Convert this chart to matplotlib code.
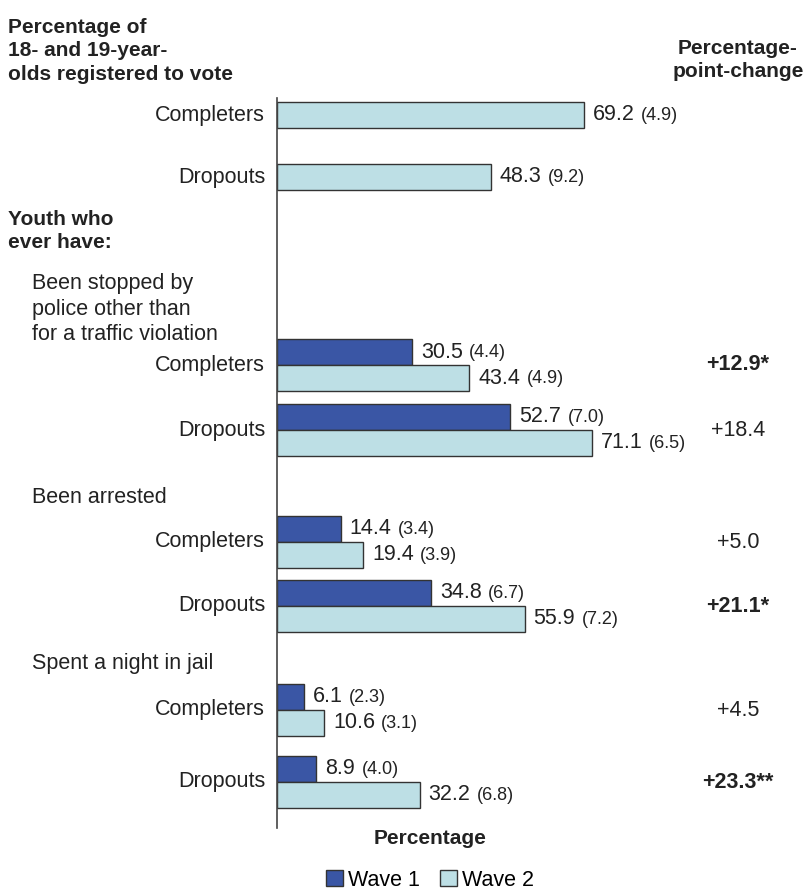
import matplotlib
matplotlib.use("Agg")
import matplotlib.pyplot as plt
from matplotlib.patches import Patch

plt.rcParams['font.family'] = ['Liberation Sans', 'DejaVu Sans']

# data
reg_groups = ['Completers', 'Dropouts']
reg_wave2 = [69.2, 48.3]
reg_wave2_se = [4.9, 9.2]

sections = ['Been stopped by\npolice other than\nfor a traffic violation',
            'Been arrested',
            'Spent a night in jail']
groups = ['Completers', 'Dropouts']
wave1 = [[30.5, 52.7], [14.4, 34.8], [6.1, 8.9]]
wave1_se = [[4.4, 7.0], [3.4, 6.7], [2.3, 4.0]]
wave2 = [[43.4, 71.1], [19.4, 55.9], [10.6, 32.2]]
wave2_se = [[4.9, 6.5], [3.9, 7.2], [3.1, 6.8]]
change = [['+12.9*', '+18.4'], ['+5.0', '+21.1*'], ['+4.5', '+23.3**']]
change_bold = [[True, False], [False, True], [False, True]]

c1 = '#3a56a5'
c2 = '#bddfe5'
edge = '#333333'
tc = '#222222'
fs = 15.5      # label size
fs_b = 15      # bold headers
fs_v = 15.5    # values
fs_se = 13     # standard errors

W, H = 807, 890
fig = plt.figure(figsize=(W / 100, H / 100), dpi=100)
x0 = 277
scale = 4.43  # px per percent
ax = fig.add_axes([x0 / W, 0, 1 - x0 / W, 1])
ax.set_xlim(0, (W - x0) / scale)
ax.set_ylim(H, 0)
ax.axis('off')
ax.plot([0, 0], [98, 828], color='#444444', lw=1.2, clip_on=False)

def ftxt(x, y, s, **kw):
    fig.text(x / W, 1 - y / H, s, **kw)

bh = 26

def value_label(val, se, y):
    t = ax.annotate(f'{val:.1f}', xy=(val, y), xytext=(6.5, 0), textcoords='offset points',
                    va='center', ha='left', fontsize=fs_v, color=tc)
    ax.annotate(f'({se:.1f})', xy=(1, 0), xycoords=t, xytext=(4.5, 0.8), textcoords='offset points',
                va='bottom', ha='left', fontsize=fs_se, color=tc)

# registration section
reg_y = [115, 177]
for g, v, se, y in zip(reg_groups, reg_wave2, reg_wave2_se, reg_y):
    ax.barh(y, v, height=bh, color=c2, edgecolor=edge, lw=1)
    value_label(v, se, y)
    ftxt(265, y, g, ha='right', va='center', fontsize=fs, color=tc)

ftxt(8, 51, 'Percentage of\n18- and 19-year-\nolds registered to vote', ha='left', va='center',
     fontsize=fs_b, fontweight='bold', color=tc, linespacing=1.3)
ftxt(738, 60, 'Percentage-\npoint-change', ha='center', va='center',
     fontsize=fs_b, fontweight='bold', color=tc, linespacing=1.3)
ftxt(8, 231, 'Youth who\never have:', ha='left', va='center',
     fontsize=fs_b, fontweight='bold', color=tc, linespacing=1.3)

sec_y = [[365, 430], [542, 606], [710, 782]]
sec_head_y = [309, 498, 664]
for i, sec in enumerate(sections):
    ftxt(32, sec_head_y[i], sec, ha='left', va='center', fontsize=fs, color=tc,
         linespacing=1.3)
    for j, g in enumerate(groups):
        y = sec_y[i][j]
        ax.barh(y - bh / 2, wave1[i][j], height=bh, color=c1, edgecolor=edge, lw=1)
        ax.barh(y + bh / 2, wave2[i][j], height=bh, color=c2, edgecolor=edge, lw=1)
        value_label(wave1[i][j], wave1_se[i][j], y - bh / 2)
        value_label(wave2[i][j], wave2_se[i][j], y + bh / 2)
        ftxt(265, y, g, ha='right', va='center', fontsize=fs, color=tc)
        ftxt(738, y, change[i][j], ha='center', va='center', fontsize=fs, color=tc,
             fontweight='bold' if change_bold[i][j] else 'normal')

ftxt(430, 839, 'Percentage', ha='center', va='center', fontsize=fs_b,
     fontweight='bold', color=tc)

handles = [Patch(facecolor=c1, edgecolor=edge, label='Wave 1'),
           Patch(facecolor=c2, edgecolor=edge, label='Wave 2')]
fig.legend(handles=handles, loc='center', bbox_to_anchor=(430 / W, 1 - 880 / H), ncol=2,
           frameon=False, fontsize=fs, handlelength=0.8, handleheight=0.8,
           handletextpad=0.25, columnspacing=0.9, borderpad=0)

fig.savefig('out.png', dpi=100)
